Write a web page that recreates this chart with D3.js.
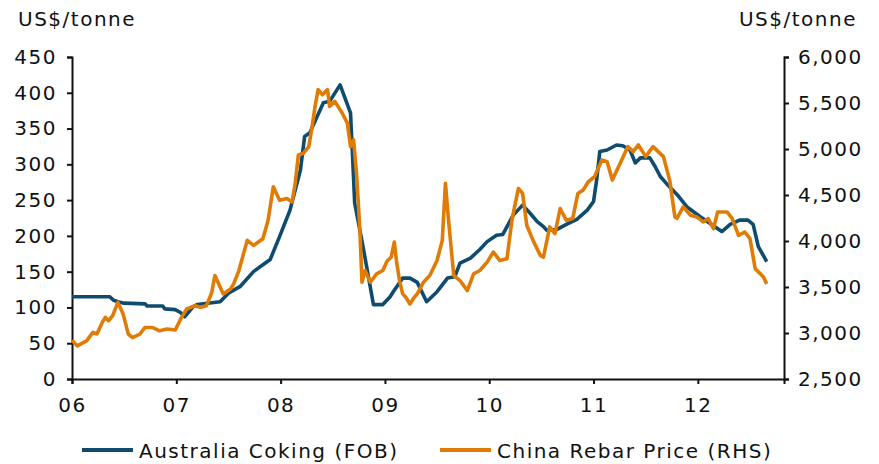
<!DOCTYPE html>
<html>
<head>
<meta charset="utf-8">
<script src="https://cdn.jsdelivr.net/npm/d3@7"></script>
<style>
  html, body { margin: 0; padding: 0; background: #fff; }
  svg text { font-family: "DejaVu Sans", Verdana, sans-serif; font-size: 20px; letter-spacing: 1.5px; fill: #111; }
</style>
</head>
<body>
<svg id="chart" width="879" height="464"></svg>
<script>
// Australia coking coal (FOB), US$/tonne — time in decimal years
const cokingT = [2006.00, 2006.36, 2006.40, 2006.44, 2006.50, 2006.70, 2006.72, 2006.87, 2006.89, 2006.99,
  2007.04, 2007.08, 2007.16, 2007.20, 2007.42, 2007.50, 2007.61, 2007.74, 2007.90, 2007.99,
  2008.09, 2008.19, 2008.23, 2008.28, 2008.41, 2008.47, 2008.57, 2008.67, 2008.69, 2008.71,
  2008.79, 2008.89, 2008.98, 2009.05, 2009.08, 2009.17, 2009.24, 2009.31, 2009.40, 2009.50,
  2009.60, 2009.67, 2009.72, 2009.82, 2009.91, 2009.98, 2010.07, 2010.13, 2010.23, 2010.32,
  2010.39, 2010.46, 2010.52, 2010.55, 2010.65, 2010.74, 2010.84, 2010.94, 2011.00, 2011.03,
  2011.06, 2011.13, 2011.22, 2011.28, 2011.35, 2011.40, 2011.45, 2011.54, 2011.59, 2011.64,
  2011.70, 2011.80, 2011.90, 2012.02, 2012.09, 2012.23, 2012.31, 2012.40, 2012.48, 2012.53,
  2012.58, 2012.63, 2012.66];
const cokingV = [115, 115, 110, 108, 106, 105, 102, 102, 98, 97,
  93, 87, 101, 104, 108, 120, 129, 150, 167, 199,
  236, 292, 339, 344, 386, 388, 411, 372, 311, 246,
  185, 104, 104, 115, 122, 141, 141, 135, 108, 122,
  141, 143, 162, 169, 181, 192, 201, 202, 229, 243,
  232, 220, 213, 208, 209, 216, 223, 236, 248, 278,
  318, 320, 327, 326, 320, 302, 309, 309, 297, 283,
  273, 258, 240, 227, 220, 206, 216, 222, 222, 216,
  185, 172, 164];

// China rebar price (RHS), US$/tonne — time in decimal years
const rebarT = [2006.00, 2006.05, 2006.14, 2006.20, 2006.24, 2006.29, 2006.32, 2006.35, 2006.39, 2006.44,
  2006.49, 2006.54, 2006.58, 2006.65, 2006.70, 2006.77, 2006.84, 2006.91, 2006.99, 2007.05,
  2007.10, 2007.18, 2007.23, 2007.29, 2007.34, 2007.37, 2007.45, 2007.52, 2007.55, 2007.60,
  2007.68, 2007.74, 2007.83, 2007.88, 2007.93, 2007.99, 2008.06, 2008.11, 2008.14, 2008.17,
  2008.22, 2008.27, 2008.30, 2008.33, 2008.36, 2008.40, 2008.45, 2008.47, 2008.52, 2008.59,
  2008.64, 2008.67, 2008.70, 2008.73, 2008.76, 2008.78, 2008.81, 2008.86, 2008.92, 2008.98,
  2009.02, 2009.06, 2009.09, 2009.11, 2009.14, 2009.17, 2009.20, 2009.24, 2009.27, 2009.31,
  2009.37, 2009.43, 2009.50, 2009.55, 2009.58, 2009.61, 2009.66, 2009.72, 2009.79, 2009.85,
  2009.91, 2009.98, 2010.04, 2010.10, 2010.17, 2010.22, 2010.28, 2010.32, 2010.36, 2010.42,
  2010.49, 2010.52, 2010.58, 2010.63, 2010.68, 2010.74, 2010.80, 2010.85, 2010.90, 2010.95,
  2011.01, 2011.08, 2011.13, 2011.18, 2011.24, 2011.30, 2011.33, 2011.38, 2011.43, 2011.50,
  2011.57, 2011.67, 2011.73, 2011.78, 2011.80, 2011.86, 2011.93, 2011.99, 2012.05, 2012.10,
  2012.15, 2012.19, 2012.28, 2012.33, 2012.39, 2012.45, 2012.50, 2012.55, 2012.60, 2012.63,
  2012.66];
const rebarV = [2920, 2860, 2915, 3006, 2991, 3115, 3170, 3133, 3188, 3333,
  3206, 2988, 2951, 2988, 3060, 3060, 3024, 3043, 3032, 3170,
  3261, 3297, 3279, 3297, 3442, 3625, 3425, 3479, 3534, 3679,
  4007, 3952, 4025, 4225, 4589, 4444, 4462, 4425, 4626, 4935,
  4954, 5026, 5227, 5463, 5645, 5590, 5645, 5463, 5518, 5391,
  5281, 5026, 5099, 4698, 4116, 3552, 3679, 3552, 3643, 3679,
  3780, 3825, 3989, 3789, 3570, 3425, 3388, 3316, 3370, 3425,
  3552, 3625, 3789, 4007, 4626, 4225, 3625, 3570, 3461, 3643,
  3679, 3770, 3880, 3789, 3807, 4244, 4571, 4517, 4171, 4007,
  3843, 3825, 4153, 4080, 4353, 4225, 4244, 4517, 4553, 4644,
  4698, 4881, 4863, 4662, 4808, 4954, 5026, 4972, 5045, 4917,
  5026, 4917, 4662, 4262, 4247, 4371, 4280, 4262, 4207, 4244,
  4135, 4316, 4316, 4244, 4062, 4098, 4025, 3698, 3643, 3607,
  3534];

const yearTicks = [2006, 2007, 2008, 2009, 2010, 2011, 2012];
const leftTicks = [0, 50, 100, 150, 200, 250, 300, 350, 400, 450];
const rightTicks = [2500, 3000, 3500, 4000, 4500, 5000, 5500, 6000];
const seriesNames = ["Australia Coking (FOB)", "China Rebar Price (RHS)"];
const seriesColors = ["#0e4b6d", "#e07b05"];

const svg = d3.select("#chart");
const plot = { left: 72, right: 784, top: 57, bottom: 379 };

const x = d3.scaleLinear().domain([2006, 2012.826]).range([plot.left, plot.right]);
const yL = d3.scaleLinear().domain([0, 450]).range([plot.bottom, plot.top]);
const yR = d3.scaleLinear().domain([2500, 6000]).range([plot.bottom, plot.top]);

const fmtComma = d3.format(",");

// axes
const axL = svg.append("g").attr("transform", `translate(${plot.left},0)`)
  .call(d3.axisLeft(yL).tickValues(leftTicks).tickSize(5).tickPadding(10).tickFormat(d3.format("d")));
const axR = svg.append("g").attr("transform", `translate(${plot.right},0)`)
  .call(d3.axisRight(yR).tickValues(rightTicks).tickSize(5).tickPadding(9).tickFormat(fmtComma));
const axB = svg.append("g").attr("transform", `translate(0,${plot.bottom})`)
  .call(d3.axisBottom(x).tickValues(yearTicks).tickSize(5).tickPadding(14)
    .tickFormat(d => String(d).slice(2)));

[axL, axR, axB].forEach(g => {
  g.select(".domain").attr("stroke", "#111").attr("stroke-width", 2);
  g.selectAll(".tick line").attr("stroke", "#111").attr("stroke-width", 2);
  g.selectAll("text").attr("font-family", null).attr("font-size", null).attr("fill", "#111");
});

// series lines
const cokingData = cokingT.map((t, i) => [t, cokingV[i]]);
const rebarData = rebarT.map((t, i) => [t, rebarV[i]]);

svg.append("path").datum(cokingData)
  .attr("fill", "none").attr("stroke", seriesColors[0]).attr("stroke-width", 3.6)
  .attr("stroke-linejoin", "round")
  .attr("d", d3.line().x(d => x(d[0])).y(d => yL(d[1])));

svg.append("path").datum(rebarData)
  .attr("fill", "none").attr("stroke", seriesColors[1]).attr("stroke-width", 3.6)
  .attr("stroke-linejoin", "round")
  .attr("d", d3.line().x(d => x(d[0])).y(d => yR(d[1])));

// unit labels
svg.append("text").attr("x", 18).attr("y", 26).text("US$/tonne");
svg.append("text").attr("x", 857).attr("y", 26).attr("text-anchor", "end").text("US$/tonne");

// legend
const legendX = [82, 440];
seriesNames.forEach((name, i) => {
  const g = svg.append("g").attr("transform", `translate(${legendX[i]},450)`);
  g.append("line").attr("x1", 0).attr("x2", 51).attr("y1", 0).attr("y2", 0)
    .attr("stroke", seriesColors[i]).attr("stroke-width", 4);
  g.append("text").attr("x", 57).attr("y", 7.5).text(name);
});
</script>
</body>
</html>
